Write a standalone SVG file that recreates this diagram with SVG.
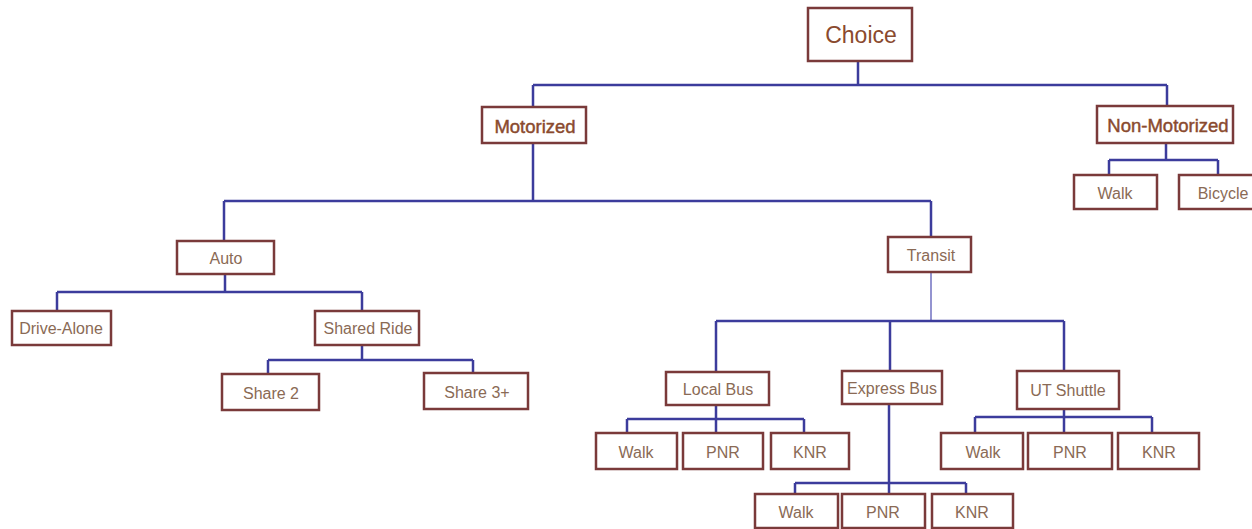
<svg xmlns="http://www.w3.org/2000/svg" width="1252" height="529" viewBox="0 0 1252 529">
  <style>
    .box { fill: #ffffff; stroke: #7a3a3a; stroke-width: 2.5; }
    .lbl { font-family: "Liberation Sans", Arial, sans-serif; font-size: 16px; fill: #8a6a55; text-anchor: middle; dominant-baseline: central; }
    .big { font-size: 18.5px; fill: #8a4a2e; stroke: #8a4a2e; stroke-width: 0.45; }
    .top { font-size: 23px; fill: #8a4a2e; }
    .wire { fill: none; stroke: #3c3c9c; stroke-width: 2.5; stroke-linejoin: round; }
    .thin { stroke: #7070c0; stroke-width: 1.5; }
  </style>
  <rect width="1252" height="529" fill="#ffffff"/>

  <!-- connectors -->
  <g id="connectors">
    <path class="wire" d="M858 61V85M533 85H1167M533 85V107M1167 85V106"/>
    <path class="wire" d="M1166 143V160M1109 160H1218M1109 160V175M1218 160V175"/>
    <path class="wire" d="M533 143V201M224 201H931M224 201V241M931 201V237"/>
    <path class="wire" d="M225 274V292M57 292H362M57 292V311M362 292V311"/>
    <path class="wire" d="M362 345V360M268 360H473M268 360V374M473 360V373"/>
    <path class="wire thin" d="M931 272V321"/>
    <path class="wire" d="M716 321H1064M716 321V372M890 321V371M1064 321V371"/>
    <path class="wire" d="M716 405V419M627 419H804M627 419V433M716 419V433M804 419V433"/>
    <path class="wire" d="M889 404V483M795 483H966M795 483V494M889 483V494M966 483V494"/>
    <path class="wire" d="M1064 409V417M975 417H1152M975 417V433M1064 417V433M1152 417V433"/>
  </g>

  <!-- nodes -->
  <g id="choice"><rect class="box" x="808" y="8" width="104" height="53"/><text class="lbl top" x="861" y="35">Choice</text></g>
  <g id="motorized"><rect class="box" x="482" y="107" width="104" height="36"/><text class="lbl big" x="535" y="126">Motorized</text></g>
  <g id="non-motorized"><rect class="box" x="1097" y="106" width="136" height="37"/><text class="lbl big" x="1168" y="125">Non-Motorized</text></g>
  <g id="nm-walk"><rect class="box" x="1074" y="175" width="83" height="34"/><text class="lbl" x="1115" y="193">Walk</text></g>
  <g id="nm-bicycle"><rect class="box" x="1179" y="175" width="80" height="34"/><text class="lbl" x="1223" y="193">Bicycle</text></g>

  <g id="auto"><rect class="box" x="177" y="241" width="97" height="33"/><text class="lbl" x="226" y="258">Auto</text></g>
  <g id="drive-alone"><rect class="box" x="12" y="311" width="99" height="34"/><text class="lbl" x="61" y="328">Drive-Alone</text></g>
  <g id="shared-ride"><rect class="box" x="315" y="311" width="104" height="34"/><text class="lbl" x="368" y="328">Shared Ride</text></g>
  <g id="share-2"><rect class="box" x="222" y="374" width="97" height="36"/><text class="lbl" x="271" y="393">Share 2</text></g>
  <g id="share-3"><rect class="box" x="424" y="373" width="104" height="36"/><text class="lbl" x="477" y="392">Share 3+</text></g>

  <g id="transit"><rect class="box" x="888" y="237" width="83" height="35"/><text class="lbl" x="931" y="255">Transit</text></g>
  <g id="local-bus"><rect class="box" x="666" y="372" width="103" height="33"/><text class="lbl" x="718" y="389">Local Bus</text></g>
  <g id="express-bus"><rect class="box" x="842" y="371" width="100" height="33"/><text class="lbl" x="892" y="388">Express Bus</text></g>
  <g id="ut-shuttle"><rect class="box" x="1017" y="371" width="102" height="38"/><text class="lbl" x="1068" y="390">UT Shuttle</text></g>

  <g id="lb-walk"><rect class="box" x="596" y="433" width="81" height="36"/><text class="lbl" x="636" y="452">Walk</text></g>
  <g id="lb-pnr"><rect class="box" x="683" y="433" width="80" height="36"/><text class="lbl" x="723" y="452">PNR</text></g>
  <g id="lb-knr"><rect class="box" x="771" y="433" width="78" height="36"/><text class="lbl" x="810" y="452">KNR</text></g>

  <g id="eb-walk"><rect class="box" x="755" y="494" width="83" height="34"/><text class="lbl" x="796" y="512">Walk</text></g>
  <g id="eb-pnr"><rect class="box" x="842" y="494" width="83" height="34"/><text class="lbl" x="883" y="512">PNR</text></g>
  <g id="eb-knr"><rect class="box" x="932" y="494" width="81" height="34"/><text class="lbl" x="972" y="512">KNR</text></g>

  <g id="ut-walk"><rect class="box" x="941" y="433" width="82" height="36"/><text class="lbl" x="983" y="452">Walk</text></g>
  <g id="ut-pnr"><rect class="box" x="1028" y="433" width="84" height="36"/><text class="lbl" x="1070" y="452">PNR</text></g>
  <g id="ut-knr"><rect class="box" x="1118" y="433" width="81" height="36"/><text class="lbl" x="1159" y="452">KNR</text></g>
</svg>
